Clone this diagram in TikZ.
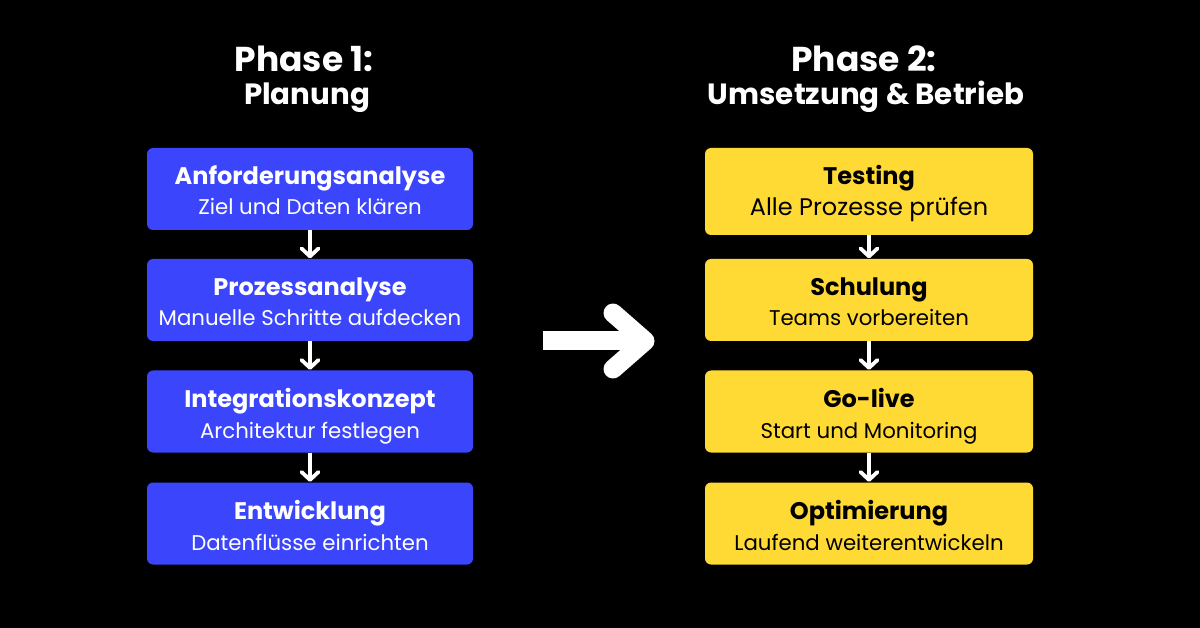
\documentclass[tikz,border=0pt]{standalone}
\usepackage{fontspec}
\setmainfont{Poppins}
\usetikzlibrary{arrows.meta}
\definecolor{bluebox}{RGB}{58,69,252}
\definecolor{yellowbox}{RGB}{255,217,52}
\tikzset{
  px/.style={x=1pt,y=-1pt},
  boxb/.style={fill=bluebox,rounded corners=6pt,minimum width=326pt,minimum height=82pt,inner sep=0pt,text=white,align=center},
  boxy/.style={fill=yellowbox,rounded corners=6pt,minimum width=328pt,minimum height=82pt,inner sep=0pt,text=black,align=center},
  ttl/.style={anchor=base,inner sep=0pt,font=\fontsize{24}{28}\selectfont\bfseries},
  sub/.style={anchor=base,inner sep=0pt,font=\fontsize{21.3}{25}\selectfont},
  head1/.style={anchor=base,inner sep=0pt,text=white,font=\fontsize{34.5}{38}\selectfont\bfseries},
  head2/.style={anchor=base,inner sep=0pt,text=white,font=\fontsize{29.3}{33}\selectfont\bfseries},
  flow/.style={draw=white,line width=3.8pt,shorten >=0.5pt,-{Straight Barb[length=8pt,width=17pt,line width=3.8pt,round]}},
}
\begin{document}
\begin{tikzpicture}[px]
\fill[black] (0,0) rectangle (1200,628);
\useasboundingbox (0,0) rectangle (1200,628);
% headings
\node[head1] (h1a) at (304,72) {Phase 1:};
\node[head2] (h1b) at (307,105) {Planung};
\node[head1] (h2a) at (864,72) {Phase 2:};
\node[head2] (h2b) at (866,105) {Umsetzung \& Betrieb};
% left boxes
\node[boxb] (a1) at (310,189) {};
\node[boxb] (a2) at (310,300) {};
\node[boxb] (a3) at (310,411.5) {};
\node[boxb] (a4) at (310,523.5) {};
\node[ttl,text=white] (a1t) at (310,184.5) {Anforderungsanalyse};
\node[sub,text=white] (a1s) at (310,215) {Ziel und Daten klären};
\node[ttl,text=white] (a2t) at (310,295.5) {Prozessanalyse};
\node[sub,text=white] (a2s) at (310,326) {Manuelle Schritte aufdecken};
\node[ttl,text=white] (a3t) at (310,407.5) {Integrationskonzept};
\node[sub,text=white] (a3s) at (310,438) {Architektur festlegen};
\node[ttl,text=white] (a4t) at (310,519.5) {Entwicklung};
\node[sub,text=white] (a4s) at (310,550) {Datenflüsse einrichten};
% right boxes
\node[boxy,minimum height=87pt] (b1) at (869,191.5) {};
\node[boxy] (b2) at (869,300) {};
\node[boxy] (b3) at (869,411.5) {};
\node[boxy] (b4) at (869,523.5) {};
\node[ttl] (b1t) at (869,184.5) {Testing};
\node[sub,font=\fontsize{24}{28}\selectfont] (b1s) at (869,216) {Alle Prozesse prüfen};
\node[ttl] (b2t) at (869,295.5) {Schulung};
\node[sub] (b2s) at (869,326) {Teams vorbereiten};
\node[ttl] (b3t) at (869,407.5) {Go-live};
\node[sub] (b3s) at (869,438) {Start und Monitoring};
\node[ttl] (b4t) at (869,519.5) {Optimierung};
\node[sub] (b4s) at (869,550) {Laufend weiterentwickeln};
% small arrows
\draw[flow] (a1.south) -- (a2.north);
\draw[flow] (a2.south) -- (a3.north);
\draw[flow] (a3.south) -- (a4.north);
\draw[flow] (b1.south) -- (b2.north);
\draw[flow] (b2.south) -- (b3.north);
\draw[flow] (b3.south) -- (b4.north);
% big arrow
\coordinate (s) at (543,341);
\coordinate (t) at (645,341);
\draw[white,line width=19pt] (s) -- (t);
\draw[white,line width=19pt,line cap=round,line join=round] (613,313) -- (645,341) -- (613,369);
\end{tikzpicture}
\end{document}
